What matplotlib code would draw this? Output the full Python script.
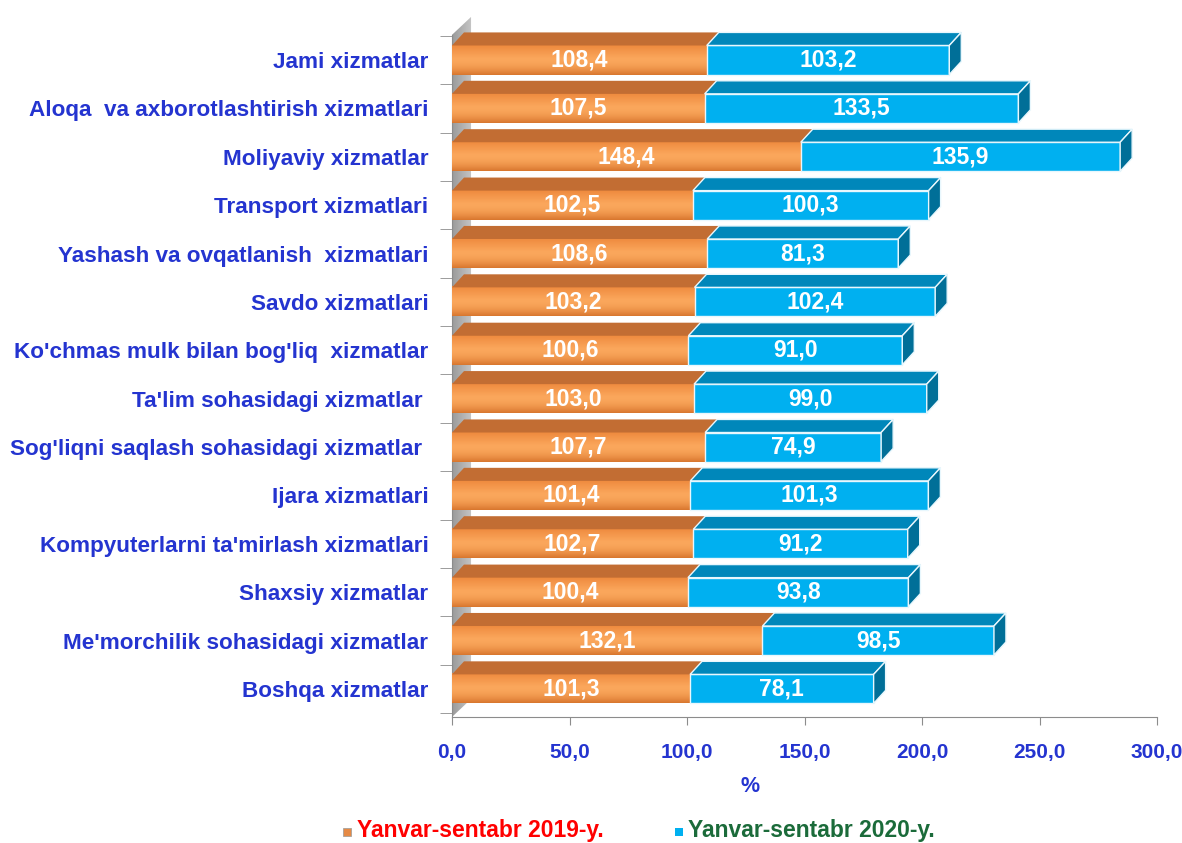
import numpy as np
import matplotlib.pyplot as plt
from matplotlib.patches import Polygon, Rectangle
from matplotlib.colors import to_rgb

##Data##
categories = ["Jami xizmatlar",
              "Aloqa  va axborotlashtirish xizmatlari",
              "Moliyaviy xizmatlar",
              "Transport xizmatlari",
              "Yashash va ovqatlanish  xizmatlari",
              "Savdo xizmatlari",
              "Ko'chmas mulk bilan bog'liq  xizmatlar",
              "Ta'lim sohasidagi xizmatlar ",
              "Sog'liqni saqlash sohasidagi xizmatlar ",
              "Ijara xizmatlari",
              "Kompyuterlarni ta'mirlash xizmatlari",
              "Shaxsiy xizmatlar",
              "Me'morchilik sohasidagi xizmatlar",
              "Boshqa xizmatlar"]
v2019 = [108.4, 107.5, 148.4, 102.5, 108.6, 103.2, 100.6, 103.0, 107.7, 101.4, 102.7, 100.4, 132.1, 101.3]
v2020 = [103.2, 133.5, 135.9, 100.3, 81.3, 102.4, 91.0, 99.0, 74.9, 101.3, 91.2, 93.8, 98.5, 78.1]
series_names = ["Yanvar-sentabr 2019-y.", "Yanvar-sentabr 2020-y."]
xticks = [0, 50, 100, 150, 200, 250, 300]

##Styles##
plt.rcParams['font.family'] = ['Liberation Sans', 'DejaVu Sans']
lab_blue = '#2434D0'
blue_front, blue_top, blue_side = '#00B0F0', '#0087BA', '#006F98'
orange_top = '#C26D33'
h = 0.6        # bar front height
dx, dy = 5.1, 0.27   # 3D depth in data units
fmt = lambda v: ("%.1f" % v).replace('.', ',')

fig = plt.figure(figsize=(11.82, 8.43), dpi=100)
ax = fig.add_axes([0.3824, 0.1495, 0.5965, 0.8327])
n = len(categories)
ypos = np.arange(n)[::-1]
ylo, yhi = -0.58, 13.93

##Side wall##
wdx, wdy = 8.1, 0.37
wall_top = 13.52
w_l, w_r = np.array(to_rgb('#9A9A9A')), np.array(to_rgb('#C6C6C6'))
s = np.linspace(0, 1, 50)[:, None]
grad_w = (w_l + (w_r - w_l) * s)[None, :, :]
wall = ax.imshow(grad_w, aspect='auto', extent=[0, wdx, ylo, wall_top + wdy], zorder=1)
wall_poly = Polygon([[0, ylo], [wdx, ylo + wdy], [wdx, wall_top + wdy], [0, wall_top]],
                    closed=True, facecolor='none', edgecolor='none')
ax.add_patch(wall_poly)
wall.set_clip_path(wall_poly)

##Orange gradient##
c_top, c_mid, c_bot = np.array(to_rgb('#EE8A3E')), np.array(to_rgb('#FBA75C')), np.array(to_rgb('#D9772F'))
t = np.linspace(0, 1, 40)[:, None]
grad_o = np.where(t < 0.45, c_top + (c_mid - c_top) * (t / 0.45), c_mid + (c_bot - c_mid) * ((t - 0.45) / 0.55) ** 2)
grad_o = grad_o[:, None, :]

for y, a, b in zip(ypos, v2019, v2020):
    y0, y1 = y - h / 2, y + h / 2
    # orange segment
    ax.imshow(grad_o, aspect='auto', extent=[0, a, y0, y1], zorder=3)
    ax.add_patch(Polygon([[0, y1], [dx, y1 + dy], [a + dx, y1 + dy], [a, y1]],
                         closed=True, facecolor=orange_top, edgecolor='none', zorder=3))
    # blue segment
    ax.barh(y, b, left=a, height=h, color=blue_front, edgecolor='#E8F7FD', linewidth=1, zorder=4)
    ax.add_patch(Polygon([[a, y1], [a + dx, y1 + dy], [a + b + dx, y1 + dy], [a + b, y1]],
                         closed=True, facecolor=blue_top, edgecolor='#E8F7FD', linewidth=1, zorder=4))
    ax.add_patch(Polygon([[a + b, y0], [a + b + dx, y0 + dy], [a + b + dx, y1 + dy], [a + b, y1]],
                         closed=True, facecolor=blue_side, edgecolor='#E8F7FD', linewidth=1, zorder=4))
    # value labels
    ax.text(a / 2, y, fmt(a), ha='center', va='center', color='white',
            fontsize=16.5, fontweight='bold', zorder=6)
    ax.text(a + b / 2, y, fmt(b), ha='center', va='center', color='white',
            fontsize=16.5, fontweight='bold', zorder=6)

##Axes##
ax.set_xlim(0, 300)
ax.set_ylim(ylo, yhi)
ax.set_xticks(xticks)
ax.set_xticklabels([fmt(v) for v in xticks], color=lab_blue, fontsize=15, fontweight='bold')
ax.tick_params(axis='x', length=6, color='#8C8C8C', pad=13)
ax.set_yticks(ypos)
ax.set_yticklabels(categories, color=lab_blue, fontsize=16.2, fontweight='bold')
ax.tick_params(axis='y', which='major', length=0, pad=17)
ax.set_yticks(np.arange(-1, n) + 0.5, minor=True)
ax.tick_params(axis='y', which='minor', length=9, color='#8C8C8C')
for sp in ['top', 'right']:
    ax.spines[sp].set_visible(False)
ax.spines['bottom'].set_color('#8C8C8C')
ax.spines['left'].set_color('#8C8C8C')
ax.spines['left'].set_bounds(ylo, wall_top)
ax.set_xlabel('%', color=lab_blue, fontsize=15.5, fontweight='bold')
ax.xaxis.set_label_coords(0.4227, -0.0845)

##Legend##
fig.patches.append(Rectangle((343 / 1182, 1 - 836 / 843), 8 / 1182, 8 / 843,
                             transform=fig.transFigure, facecolor='#E58A45', edgecolor='#999999', lw=0.5))
fig.text(357 / 1182, 1 - 831 / 843, series_names[0], color='#FF0000', fontsize=16.5,
         fontweight='bold', va='center', ha='left')
fig.patches.append(Rectangle((675 / 1182, 1 - 836 / 843), 8 / 1182, 8 / 843,
                             transform=fig.transFigure, facecolor=blue_front, edgecolor='none'))
fig.text(688 / 1182, 1 - 831 / 843, series_names[1], color='#1B6B3A', fontsize=16.5,
         fontweight='bold', va='center', ha='left')

fig.savefig('out.png', dpi=100)
